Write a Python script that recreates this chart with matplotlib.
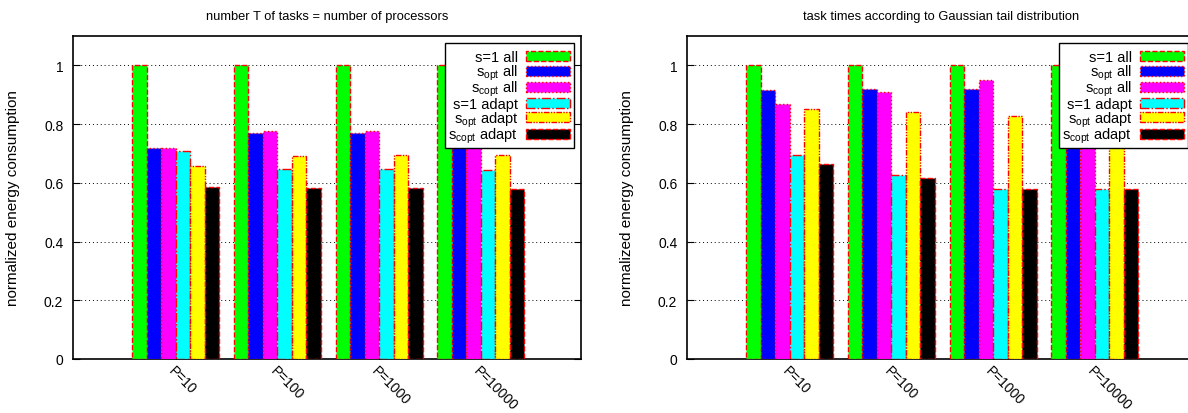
import numpy as np
import matplotlib.pyplot as plt
from matplotlib.patches import Rectangle
from matplotlib.legend_handler import HandlerPatch

plt.rcParams['font.family'] = ['Liberation Sans', 'DejaVu Sans']
plt.rcParams['mathtext.fontset'] = 'custom'
plt.rcParams['mathtext.rm'] = 'Liberation Sans'
plt.rcParams['mathtext.it'] = 'Liberation Sans'

groups = ['P=10', 'P=100', 'P=1000', 'P=10000']
labels = ['s=1 all', '$\\mathrm{s_{opt}}$ all', '$\\mathrm{s_{copt}}$ all',
          's=1 adapt', '$\\mathrm{s_{opt}}$ adapt', '$\\mathrm{s_{copt}}$ adapt']
colors = ['#00ff00', '#0000ff', '#ff00ff', '#00ffff', '#ffff00', '#000000']
dashes = ['--', ':', ':', '-.', (0, (4, 1, 1, 1, 1, 1)), '--']

# left panel: T = P
left_vals = [
    [1.0, 1.0, 1.0, 1.0],          # s=1 all
    [0.720, 0.769, 0.769, 0.768],  # s_opt all
    [0.720, 0.777, 0.777, 0.777],  # s_copt all
    [0.708, 0.647, 0.647, 0.645],  # s=1 adapt
    [0.657, 0.692, 0.694, 0.695],  # s_opt adapt
    [0.585, 0.582, 0.582, 0.580],  # s_copt adapt
]

# right panel: Gaussian tail
right_vals = [
    [1.0, 1.0, 1.0, 1.0],
    [0.916, 0.920, 0.919, 0.919],
    [0.868, 0.910, 0.951, 0.954],
    [0.694, 0.626, 0.579, 0.578],
    [0.851, 0.841, 0.827, 0.827],
    [0.664, 0.617, 0.579, 0.579],
]

titles = ['number T of tasks = number of processors',
          'task times according to Gaussian tail distribution']


def swatch(legend, orig_handle, xdescent, ydescent, width, height, fontsize):
    h = 0.68 * fontsize
    return Rectangle((-xdescent, -ydescent + (height - h) / 2), width, h)


def draw_panel(ax, vals, title):
    x = np.arange(len(groups))
    w = 1.0 / 7
    handles = []
    for j, v in enumerate(vals):
        bars = ax.bar(x + (j - 2.5) * w, v, w, color=colors[j], edgecolor='red',
                      linewidth=1.0, linestyle=dashes[j], label=labels[j], zorder=3)
        handles.append(bars.patches[0])
    ax.set_xlim(-1.01, 3.985)
    ax.set_ylim(0, 1.1)
    ax.set_yticks([0, 0.2, 0.4, 0.6, 0.8, 1.0])
    ax.set_yticklabels(['0', '0.2', '0.4', '0.6', '0.8', '1'])
    ax.set_xticks(x)
    ax.set_xticklabels(groups, rotation=-45, ha='left', va='top',
                       rotation_mode='anchor')
    ax.tick_params(axis='y', direction='in', length=5, right=True,
                   labelsize=10, pad=7)
    ax.tick_params(axis='x', direction='in', length=5, labelsize=10, pad=3)
    ax.grid(axis='y', linestyle=(0, (1, 3)), color='black', linewidth=0.7,
            zorder=0)
    ax.set_axisbelow(True)
    for s in ax.spines.values():
        s.set_linewidth(1.2)
    ax.set_ylabel('normalized energy consumption', fontsize=11, labelpad=17)
    ax.set_title(title, fontsize=9.3, pad=12)
    leg = ax.legend(handles, labels, loc='upper right', fontsize=10.5,
                    markerfirst=False, labelspacing=-0.3, handlelength=3.0,
                    handleheight=1.6, handletextpad=0.55, borderpad=0.25,
                    fancybox=False, framealpha=1, edgecolor='black',
                    borderaxespad=0.5,
                    handler_map={Rectangle: HandlerPatch(patch_func=swatch)})
    leg.get_frame().set_linewidth(1.0)
    for t in leg.get_texts():
        t.set_ha('right')


fig = plt.figure(figsize=(11.88, 4.14), dpi=100)
ax1 = fig.add_axes([73 / 1188, 1 - 360 / 414, 508 / 1188, 323 / 414])
ax2 = fig.add_axes([687 / 1188, 1 - 360 / 414, 508 / 1188, 323 / 414])
draw_panel(ax1, left_vals, titles[0])
draw_panel(ax2, right_vals, titles[1])

fig.savefig('out.png', dpi=100)
